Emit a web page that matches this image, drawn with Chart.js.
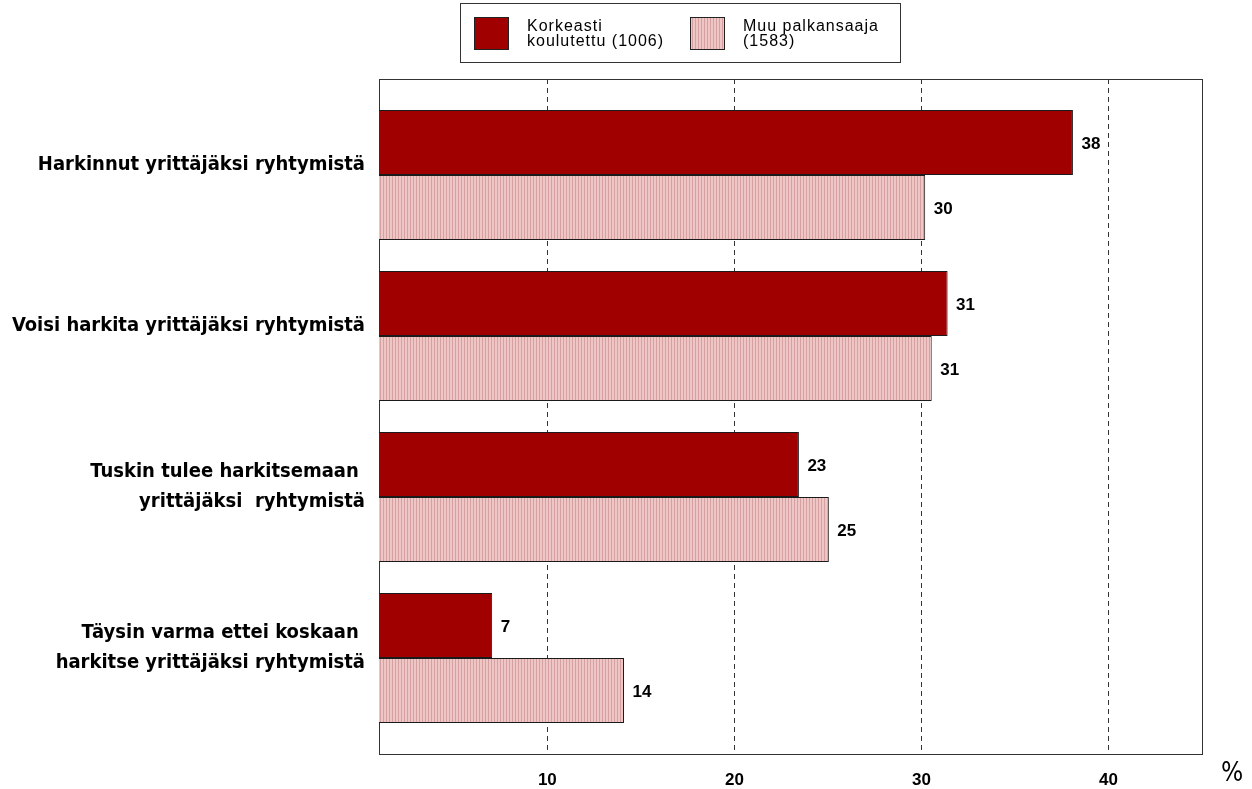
<!DOCTYPE html>
<html>
<head>
<meta charset="utf-8">
<script src="https://cdn.jsdelivr.net/npm/chart.js@4/dist/chart.umd.min.js"></script>
<style>
  html, body { margin: 0; padding: 0; background: #fff; }
  #wrap { width: 1252px; height: 789px; position: relative; }
</style>
</head>
<body>
<div id="wrap"><canvas id="chart"></canvas></div>
<script>
const categories = [
  'Harkinnut yrittäjäksi ryhtymistä',
  'Voisi harkita yrittäjäksi ryhtymistä',
  ['Tuskin tulee harkitsemaan ', 'yrittäjäksi  ryhtymistä'],
  ['Täysin varma ettei koskaan ', 'harkitse yrittäjäksi ryhtymistä']
];
const seriesNames = [
  ['Korkeasti', 'koulutettu (1006)'],
  ['Muu palkansaaja', '(1583)']
];
const highlyEducated = [38.1, 31.4, 23.45, 7.05];
const otherEmployees = [30.2, 30.55, 25.05, 14.1];
const xTicks = [10, 20, 30, 40];

const canvas = document.getElementById('chart');

// vaaleanpunainen pystyraidoitus
function stripePattern() {
  const p = document.createElement('canvas');
  p.width = 3;
  p.height = 3;
  const c = p.getContext('2d');
  c.fillStyle = '#eec6c6';
  c.fillRect(0, 0, 3, 3);
  c.fillStyle = '#d6a0a0';
  c.fillRect(2, 0, 1, 3);
  return canvas.getContext('2d').createPattern(p, 'repeat');
}
const pink = stripePattern();

const framePad = 15.5; // kehys ulottuu hieman kategoria-alueen yli

const framePlugin = {
  id: 'frame',
  beforeDatasetsDraw(chart) {
    const { ctx, chartArea, scales } = chart;
    const top = chartArea.top - framePad;
    const bottom = chartArea.bottom + framePad;
    ctx.save();
    ctx.strokeStyle = '#333';
    ctx.lineWidth = 1;
    ctx.setLineDash([5, 4]);
    xTicks.forEach(v => {
      const x = Math.round(scales.x.getPixelForValue(v)) + 0.5;
      ctx.beginPath();
      ctx.moveTo(x, top);
      ctx.lineTo(x, bottom);
      ctx.stroke();
    });
    ctx.setLineDash([]);
    ctx.strokeRect(Math.round(chartArea.left) + 0.5, Math.round(top) + 0.5,
      Math.round(chartArea.right - chartArea.left), Math.round(bottom - top));
    ctx.restore();
  }
};

const valueLabels = {
  id: 'valueLabels',
  afterDatasetsDraw(chart) {
    const ctx = chart.ctx;
    ctx.save();
    ctx.font = 'bold 17px "Liberation Sans", Arial, sans-serif';
    ctx.fillStyle = '#000';
    ctx.textAlign = 'left';
    ctx.textBaseline = 'middle';
    chart.data.datasets.forEach((ds, i) => {
      chart.getDatasetMeta(i).data.forEach((bar, j) => {
        ctx.fillText(Math.round(ds.data[j]), bar.x + 8.5, bar.y + 1.5);
      });
    });
    // yksikkö
    ctx.font = '26px "DejaVu Sans Condensed", sans-serif';
    ctx.textBaseline = 'alphabetic';
    ctx.fillText('%', chart.chartArea.right + 19, 781);
    ctx.restore();
  }
};

const boxLegend = {
  id: 'boxLegend',
  afterDraw(chart) {
    const ctx = chart.ctx;
    ctx.save();
    ctx.strokeStyle = '#333';
    ctx.lineWidth = 1;
    ctx.strokeRect(460.5, 3.5, 440, 59);
    const xs = [474, 690];
    ctx.font = '16px "Liberation Sans", Arial, sans-serif';
    ctx.letterSpacing = '1px';
    ctx.textBaseline = 'alphabetic';
    chart.data.datasets.forEach((ds, i) => {
      ctx.fillStyle = ds.backgroundColor;
      ctx.fillRect(xs[i], 17, 34, 32);
      ctx.strokeStyle = '#222';
      ctx.strokeRect(xs[i] + 0.5, 17.5, 34, 32);
      ctx.fillStyle = '#000';
      ds.label.forEach((line, k) => {
        ctx.fillText(line, xs[i] + 53, 31 + k * 15);
      });
    });
    ctx.restore();
  }
};

new Chart(canvas, {
  type: 'bar',
  data: {
    labels: categories,
    datasets: [
      {
        label: seriesNames[0],
        data: highlyEducated,
        backgroundColor: '#a00000',
        borderColor: '#1a1a1a',
        borderWidth: 1,
        borderSkipped: false
      },
      {
        label: seriesNames[1],
        data: otherEmployees,
        backgroundColor: pink,
        borderColor: '#1a1a1a',
        borderWidth: 1,
        borderSkipped: false
      }
    ]
  },
  options: {
    indexAxis: 'y',
    responsive: true,
    maintainAspectRatio: false,
    animation: false,
    categoryPercentage: 0.807,
    barPercentage: 1,
    layout: {
      padding: { top: 94.5, right: 50, left: 0, bottom: 0 }
    },
    scales: {
      x: {
        min: 1,
        max: 45,
        afterBuildTicks: scale => {
          scale.ticks = xTicks.map(v => ({ value: v }));
        },
        afterFit: scale => {
          scale.height = 50.5;
        },
        grid: { display: false },
        border: { display: false },
        ticks: {
          padding: 24,
          color: '#000',
          font: { family: '"Liberation Sans", Arial, sans-serif', size: 17, weight: 'bold' }
        }
      },
      y: {
        afterFit: scale => {
          scale.width = 379;
        },
        grid: { display: false, drawTicks: false },
        border: { display: false },
        ticks: {
          padding: 14,
          labelOffset: -10,
          color: '#000',
          font: { family: '"DejaVu Sans Condensed", sans-serif', size: 20, weight: 'bold', lineHeight: 1.5 }
        }
      }
    },
    plugins: {
      legend: { display: false },
      tooltip: { enabled: false }
    }
  },
  plugins: [framePlugin, valueLabels, boxLegend]
});
</script>
</body>
</html>
